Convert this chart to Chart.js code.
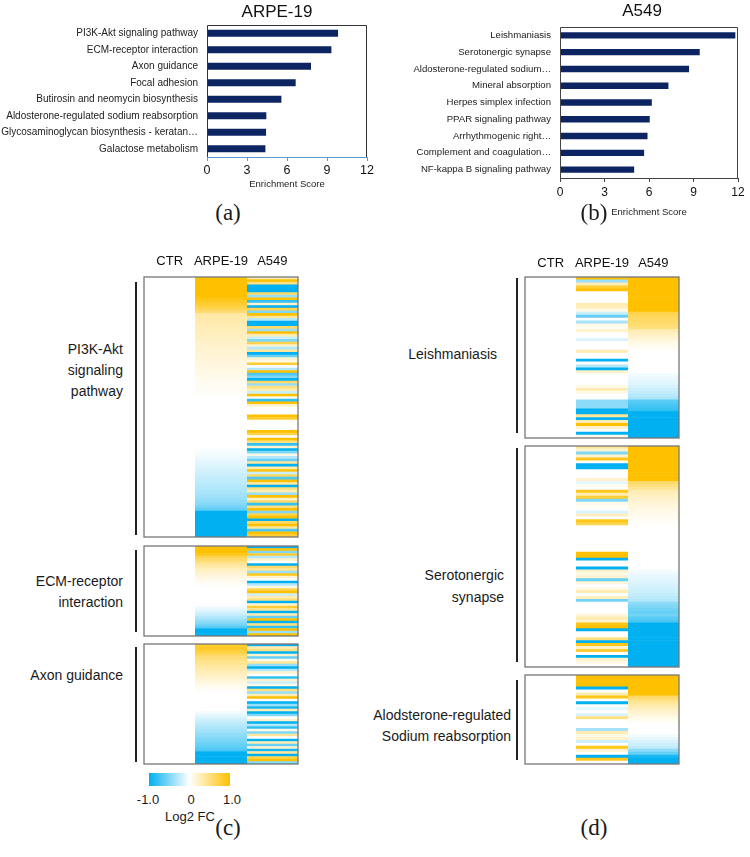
<!DOCTYPE html>
<html>
<head>
<meta charset="utf-8">
<script src="https://cdn.jsdelivr.net/npm/chart.js@4.4.1/dist/chart.umd.min.js"></script>
<style>
  body { margin: 0; background: #fff; }
  #wrap { position: relative; width: 750px; height: 857px; overflow: hidden; font-family: 'Liberation Sans', Arial, sans-serif; color: #1a1a1a; }
  canvas { position: absolute; }
  .txt { position: absolute; font-size: 14px; line-height: 21px; white-space: nowrap; }
  .panel { position: absolute; width: 60px; text-align: center; font-family: 'Liberation Serif', 'Times New Roman', serif; font-size: 23px; line-height: 26px; }
  .bracket { position: absolute; width: 2px; background: #222; }
  .cb { position: absolute; font-size: 13px; line-height: 16px; width: 60px; text-align: center; }
</style>
</head>
<body>
<div id="wrap">
  <canvas id="barA" width="380" height="200" style="left:0;top:0"></canvas>
  <canvas id="barB" width="370" height="225" style="left:380px;top:0"></canvas>

  <canvas id="hmC1" width="158" height="288" style="left:142px;top:251px"></canvas>
  <canvas id="hmC2" width="158" height="94" style="left:142px;top:544px"></canvas>
  <canvas id="hmC3" width="158" height="124" style="left:142px;top:642px"></canvas>

  <canvas id="hmD1" width="158" height="189" style="left:523px;top:251px"></canvas>
  <canvas id="hmD2" width="158" height="225" style="left:523px;top:444px"></canvas>
  <canvas id="hmD3" width="158" height="93" style="left:523px;top:673px"></canvas>

  <div class="bracket" style="left:135px;top:282px;height:253px"></div>
  <div class="bracket" style="left:135px;top:550px;height:82px"></div>
  <div class="bracket" style="left:135px;top:647px;height:115px"></div>
  <div class="bracket" style="left:516px;top:278px;height:155px"></div>
  <div class="bracket" style="left:516px;top:448px;height:214px"></div>
  <div class="bracket" style="left:516px;top:680px;height:80px"></div>

  <div class="txt" style="right:627px;top:339px;text-align:right">PI3K-Akt<br>signaling<br>pathway</div>
  <div class="txt" style="right:627px;top:571px;text-align:right">ECM-receptor<br>interaction</div>
  <div class="txt" style="right:627px;top:665px;text-align:right">Axon guidance</div>
  <div class="txt" style="right:253px;top:344px;text-align:right">Leishmaniasis</div>
  <div class="txt" style="right:246px;top:564px;text-align:right;line-height:22px">Serotonergic<br>synapse</div>
  <div class="txt" style="right:239px;top:705px;text-align:right">Alodsterone-regulated<br>Sodium reabsorption</div>

  <div class="bracket" style="left:149px;top:773px;width:81px;height:13px;background:linear-gradient(to right,#00b0f0,#ffffff,#ffc000)"></div>
  <div class="cb" style="left:118px;top:792px">-1.0</div>
  <div class="cb" style="left:161px;top:792px">0</div>
  <div class="cb" style="left:202px;top:792px">1.0</div>
  <div class="cb" style="left:150px;top:809px;width:80px">Log2 FC</div>

  <div class="panel" style="left:198px;top:200px">(a)</div>
  <div class="panel" style="left:564px;top:200px">(b)</div>
  <div class="panel" style="left:198px;top:815px">(c)</div>
  <div class="panel" style="left:564px;top:815px">(d)</div>
</div>
<script>
Chart.defaults.font.family = "'Liberation Sans', Arial, sans-serif";

// (a) / (b) enrichment bars
var arpeTerms = ['PI3K-Akt signaling pathway', 'ECM-receptor interaction', 'Axon guidance', 'Focal adhesion',
  'Butirosin and neomycin biosynthesis', 'Aldosterone-regulated sodium reabsorption',
  'Glycosaminoglycan biosynthesis - keratan\u2026', 'Galactose metabolism'];
var arpeScores = [9.83, 9.33, 7.8, 6.65, 5.58, 4.45, 4.43, 4.38];

var a549Terms = ['Leishmaniasis', 'Serotonergic synapse', 'Aldosterone-regulated sodium\u2026', 'Mineral absorption',
  'Herpes simplex infection', 'PPAR signaling pathway', 'Arrhythmogenic right\u2026',
  'Complement and coagulation\u2026', 'NF-kappa B signaling pathway'];
var a549Scores = [11.82, 9.42, 8.7, 7.31, 6.19, 6.05, 5.9, 5.67, 5.0];

var scoreTicks = [0, 3, 6, 9, 12];

// (c) / (d) heatmaps, log2 FC per gene (CTR column is all 0)
var columns = ['CTR', 'ARPE-19', 'A549'];

var pi3kArpe = [1, 1, 1, 1, 1, 1, 1, 1, 0.92, 0.86, 0.8, 0.74, 0.66, 0.55,
  0.36, 0.34, 0.33, 0.31, 0.3, 0.28, 0.27, 0.26, 0.25, 0.24, 0.22, 0.21, 0.2, 0.19, 0.18, 0.17,
  0.16, 0.15, 0.14, 0.13, 0.12, 0.11, 0.1, 0.09, 0.08, 0.07, 0.06, 0.05, 0.05, 0.04, 0.03, 0.02,
  0, 0, 0, 0, 0, 0, 0, 0, 0, 0, 0, 0, 0, 0, 0, 0, 0, 0, 0, 0,
  -0.02, -0.03, -0.05, -0.07, -0.09, -0.11, -0.13, -0.15, -0.17, -0.19, -0.21, -0.23,
  -0.25, -0.27, -0.29, -0.31, -0.33, -0.35, -0.38, -0.41, -0.44, -0.48, -0.55, -0.62,
  -1, -1, -1, -1, -1, -1, -1, -1, -1, -1];
var pi3kA549 = [0.3, 1, 0.5, -1, -1, -1, 0.6, -0.4, 1, -0.8,
  0.2, -1, 0.7, -0.5, 1, 0.4, -0.3, -1, -1, 0.6,
  -0.4, 1, 0.3, -0.2, -0.5, 0.7, 0.2, -0.3, 0.4, -1,
  -0.6, 0.2, 0.1, 0.8, 0, -0.3, 1, -0.7, -0.5, -1,
  0.6, -0.4, 0.5, 0.3, -0.2, 1, 0.1, -0.8, 1, 0.2,
  0, 0, 0, 1, 0.8, 0, 0, 0, 0, 1,
  0.7, 0, 1, 0.5, -0.8, 0.2, -1, -0.5, 0.1, -0.3,
  -0.6, 0.4, -1, 0.3, 0.9, -0.2, 0.6, -0.7, 1, 0.4,
  -1, 0.5, 0.3, -0.4, 1, 0.2, 0.6, -0.8, 0.5, 1,
  -0.5, 0.7, 1, -1, 0.6, 1, 0.4, -0.7, 1, 0.8];

var ecmArpe = [1, 1, 1, 0.9, 0.7, 0.6, 0.5, 0.4, 0.32, 0.26, 0.2, 0.16, 0.12, 0.08, 0.05, 0.03,
  0, 0, 0, 0, 0, 0, 0, 0, -0.05, -0.1, -0.16, -0.22, -0.3, -0.38, -0.46, -0.55, -0.65, -1, -1, -1];
var ecmA549 = [-1, 1, -0.5, 0.8, -0.3, 0.2, 0, -1, 0.6, 0.4, -0.4, 0.9, 0.2, 0, -1, -0.3, 0.1, 0.7,
  1, -0.2, 0.3, 0.5, -1, 0.2, 0.8, 0.4, -1, 0.3, -0.6, 1, -1, 0.5, -0.8, 1, -0.4, 1];

var axonArpe = [0.85, 0.85, 0.8, 0.75, 0.6, 0.55, 0.5, 0.45, 0.4, 0.36, 0.32, 0.28, 0.24, 0.2, 0.16,
  0.12, 0.09, 0.06, 0.03, 0, 0, 0, 0, 0, 0, 0, 0, -0.05, -0.1, -0.15, -0.2, -0.24, -0.28, -0.32,
  -0.36, -0.4, -0.44, -0.48, -0.52, -0.56, -0.6, -0.65, -0.7, -1, -1, -1, -1, -1];
var axonA549 = [-1, 0.3, 0.5, -1, 0.2, -0.6, 0.1, 0.4, -0.4, -1, -0.3, 0.2, 0, -0.8, 0.2, -0.2,
  0.1, -1, 0.5, -0.4, 0.3, 1, 0, -1, -0.4, -0.9, 0.3, -1, -0.5, 0, 0.2, -1, -0.3, -0.8, 0.1,
  -0.5, 0.4, 0, -1, 0.3, -0.6, 0.2, -0.9, 0.4, -1, 0.7, 1, -0.5];

var leishArpe = [1, -0.4, 0.3, 0.8, 1, 0, 0, 0, 0, 0.3, 0.25, 0.1, -0.2, -0.6, 0, -0.35, 0.1, 0.05,
  0.2, 0, 0, -0.15, 0, 0, 0, 0.3, 0, 0, -1, 0, -0.3, -1, 0.2, 0, 0, 0, 0, 0.1, 0.3, 0.1, 0, 0,
  -0.45, -0.45, -0.45, -1, -1, 0.4, -1, 0.3, 1, 0.2, 0, -1, 0.1];
var leishA549 = [1, 1, 1, 1, 1, 1, 1, 1, 1, 1, 1, 1, 0.7, 0.65, 0.6, 0.58, 0.55, 0.5,
  0.3, 0.25, 0.2, 0.15, 0.1, 0.07, 0.04, 0, 0, 0, 0, 0, 0, 0, 0,
  -0.05, -0.08, -0.1, -0.13, -0.16, -0.2, -0.24, -0.28, -0.33, -0.65, -0.7, -0.75, -0.8,
  -1, -1, -1, -1, -1, -1, -1, -1, -1];

var seroArpe = [0.4, 0.2, -0.5, 0.2, 0.9, 0, -1, -1, 0, 0, 0, 0.2, -0.1, 0.05, 0, 0.9, 0.3, 0.8,
  -0.5, 0.1, 0.05, 0, -0.15, 0.25, 0, 0.9, 0.7, 0, 0, 0, 0, 0, 0, 0, 0, 0, 1, 1, -1, 0, 0, -1,
  0.2, 0.1, 0.2, -0.6, 0.15, 0, 0.1, 0.3, 0, 0.25, -0.55, 0, 0, 0, 0, 0.15, 0.3, 0.2,
  0.9, 1, -1, 0, 0, 0.5, -1, 0.9, 0.2, 0.8, 0, -1, 0.2, 0.1, 0];
var seroA549 = [1, 1, 1, 1, 1, 1, 1, 1, 1, 1, 1, 1, 0.6, 0.5, 0.42,
  0.3, 0.26, 0.22, 0.19, 0.16, 0.13, 0.11, 0.09, 0.07, 0.05, 0.03, 0.02,
  0, 0, 0, 0, 0, 0, 0, 0, 0, 0, 0, 0, 0, 0, 0,
  -0.04, -0.07, -0.1, -0.12, -0.14, -0.16, -0.18, -0.2, -0.23, -0.26, -0.3,
  -0.45, -0.5, -0.55, -0.6, -0.55, -0.65, -0.7,
  -1, -1, -1, -1, -1, -1, -1, -1, -1, -1, -1, -1, -1, -1, -1];

var aldoArpe = [1, 1, 1, 1, -1, 0, 0.3, 0.9, 0, -1, 0, -0.1, 0, -0.15, 0.5, 0, 0, 0, -0.35, 0.3,
  0.1, 0.2, -0.2, 0, 0.9, 0.2, 0, -1, 0.9, 0];
var aldoA549 = [1, 1, 1, 1, 1, 1, 1, 0.6, 0.5, 0.4, 0.32, 0.25, 0.2, 0.15, 0.1, 0.05, 0, 0, 0, 0,
  -0.05, -0.1, -0.15, -0.2, -0.25, -0.45, -0.6, -0.9, -1, -1];

function fcColor(v) {
  var t = Math.min(Math.abs(v), 1);
  var c = v >= 0 ? [255, 192, 0] : [0, 176, 240];
  var r = Math.round(255 + (c[0] - 255) * t);
  var g = Math.round(255 + (c[1] - 255) * t);
  var b = Math.round(255 + (c[2] - 255) * t);
  return 'rgb(' + r + ',' + g + ',' + b + ')';
}

// top + right + left edges of the bar plots
var edgePlugin = {
  id: 'edges',
  afterDraw: function (chart, args, opts) {
    var a = chart.chartArea, ctx = chart.ctx;
    ctx.save();
    ctx.strokeStyle = opts.color;
    ctx.lineWidth = 1;
    ctx.beginPath();
    ctx.moveTo(a.left + 0.5, a.bottom);
    ctx.lineTo(a.left + 0.5, a.top + 0.5);
    ctx.lineTo(a.right - 0.5, a.top + 0.5);
    ctx.lineTo(a.right - 0.5, a.bottom);
    ctx.stroke();
    ctx.restore();
  }
};

// chart title, placed off-centre like the original
var captionPlugin = {
  id: 'caption',
  afterDraw: function (chart, args, opts) {
    var ctx = chart.ctx;
    ctx.save();
    ctx.font = '17px ' + Chart.defaults.font.family;
    ctx.fillStyle = '#111';
    ctx.textAlign = 'center';
    ctx.textBaseline = 'middle';
    ctx.fillText(opts.text, opts.x, opts.y);
    ctx.restore();
  }
};

// box round each heatmap block
var framePlugin = {
  id: 'frame',
  afterDraw: function (chart, args, opts) {
    var a = chart.chartArea, ctx = chart.ctx;
    ctx.save();
    ctx.strokeStyle = opts.color;
    ctx.lineWidth = 1.3;
    ctx.strokeRect(a.left, a.top, a.right - a.left, a.bottom - a.top);
    ctx.restore();
  }
};

function enrichmentChart(id, title, terms, scores, o) {
  return new Chart(document.getElementById(id), {
    type: 'bar',
    data: {
      labels: terms,
      datasets: [{
        label: title,
        data: scores,
        backgroundColor: '#0d2463',
        barPercentage: o.barPct,
        categoryPercentage: 1
      }]
    },
    options: {
      indexAxis: 'y',
      responsive: false,
      animation: false,
      events: [],
      layout: { padding: { left: 0, right: o.padRight, top: o.top, bottom: 0 } },
      plugins: {
        legend: { display: false },
        tooltip: { enabled: false },
        caption: { text: title, x: o.titleX, y: o.titleY },
        edges: { color: o.edgeColor }
      },
      scales: {
        x: {
          min: 0, max: 12,
          afterBuildTicks: function (s) { s.ticks = scoreTicks.map(function (v) { return { value: v }; }); },
          afterFit: function (s) { s.height = o.xHeight; },
          grid: { display: true, drawOnChartArea: false, drawTicks: true, tickLength: 4, color: o.axisColor },
          border: { color: o.axisColor },
          ticks: { color: '#111', font: { size: o.tickSize }, padding: o.tickPad },
          title: {
            display: true, text: 'Enrichment Score', color: '#222',
            font: { size: 9.5 }, padding: { top: 0, bottom: o.xTitleBottom }
          }
        },
        y: {
          afterFit: function (s) { s.width = o.yWidth; },
          grid: { display: false, drawTicks: false },
          border: { display: false },
          ticks: { color: '#222', font: { size: o.labelSize }, padding: 9, autoSkip: false }
        }
      }
    },
    plugins: [edgePlugin, captionPlugin]
  });
}

enrichmentChart('barA', 'ARPE-19', arpeTerms, arpeScores, {
  barPct: 0.42, padRight: 13, yWidth: 207, top: 25, titleX: 277, titleY: 12, labelSize: 10,
  xHeight: 43, tickSize: 12.5, tickPad: 2, xTitleBottom: 10, axisColor: '#5b9bd5', edgeColor: '#333'
});
enrichmentChart('barB', 'A549', a549Terms, a549Scores, {
  barPct: 0.38, padRight: 12, yWidth: 180, top: 27, titleX: 262, titleY: 11, labelSize: 9.6,
  xHeight: 47, tickSize: 12, tickPad: 3, xTitleBottom: 7, axisColor: '#444', edgeColor: '#444'
});

function heatmap(id, arpe, a549, headerPad) {
  var header = headerPad !== undefined;
  return new Chart(document.getElementById(id), {
    type: 'bar',
    data: {
      labels: arpe.map(function (v, i) { return 'gene ' + (i + 1); }),
      datasets: [
        { label: columns[1], data: arpe.map(function () { return [1, 2]; }), backgroundColor: arpe.map(fcColor) },
        { label: columns[2], data: a549.map(function () { return [2, 3]; }), backgroundColor: a549.map(fcColor) }
      ]
    },
    options: {
      indexAxis: 'y',
      responsive: false,
      animation: false,
      events: [],
      layout: { padding: { left: 2, right: 2, top: header ? 0 : 2, bottom: 2 } },
      datasets: { bar: { grouped: false, barPercentage: 1, categoryPercentage: 1, borderWidth: 0 } },
      plugins: {
        legend: { display: false },
        tooltip: { enabled: false },
        frame: { color: '#777' }
      },
      scales: {
        x: {
          type: 'linear', min: 0, max: columns.length, position: 'top', display: header,
          afterBuildTicks: function (s) { s.ticks = columns.map(function (c, i) { return { value: i + 0.5 }; }); },
          afterFit: function (s) { s.height = header ? 26 : 0; },
          grid: { display: false, drawTicks: false },
          border: { display: false },
          ticks: {
            color: '#111', font: { size: 13 }, padding: header ? headerPad : 0,
            maxRotation: 0, minRotation: 0, autoSkip: false,
            callback: function (v) { return columns[Math.floor(v)]; }
          }
        },
        y: { display: false }
      }
    },
    plugins: [framePlugin]
  });
}

heatmap('hmC1', pi3kArpe, pi3kA549, 8);
heatmap('hmC2', ecmArpe, ecmA549);
heatmap('hmC3', axonArpe, axonA549);
heatmap('hmD1', leishArpe, leishA549, 6);
heatmap('hmD2', seroArpe, seroA549);
heatmap('hmD3', aldoArpe, aldoA549);
</script>
</body>
</html>
